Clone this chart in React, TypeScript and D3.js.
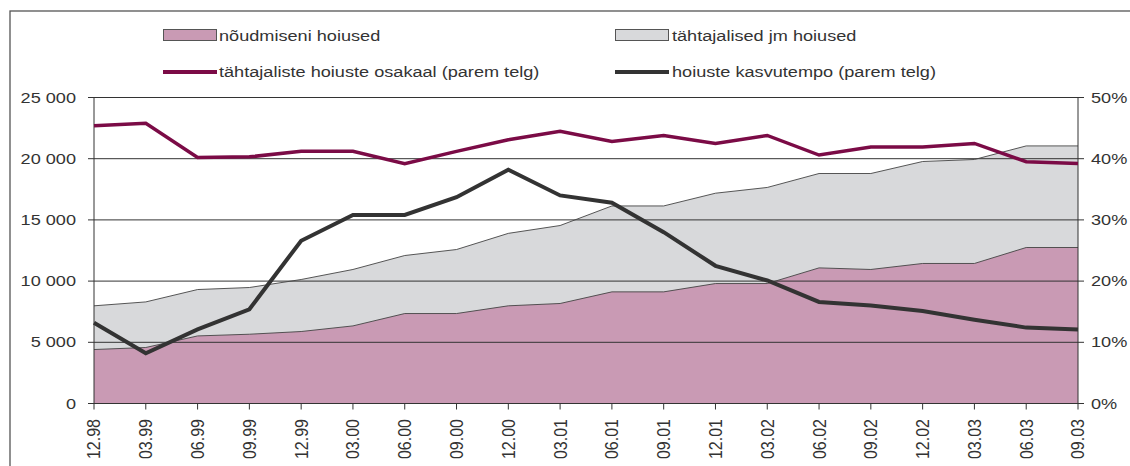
import React from "react";
import * as d3 from "d3";

const categories = ["12.98","03.99","06.99","09.99","12.99","03.00","06.00","09.00","12.00","03.01","06.01","09.01","12.01","03.02","06.02","09.02","12.02","03.03","06.03","09.03"];
const demandDeposits = [4410,4575,5520,5660,5880,6340,7350,7350,7980,8170,9120,9120,9800,9800,11080,10950,11440,11440,12745,12745];
const totalDeposits = [7980,8300,9310,9475,10130,10950,12090,12580,13900,14540,16140,16140,17180,17650,18790,18790,19770,19935,21045,21045];
const timeShare = [45.4,45.8,40.2,40.3,41.2,41.2,39.2,41.2,43.1,44.5,42.8,43.8,42.5,43.8,40.6,41.9,41.9,42.5,39.5,39.2];
const growthRate = [13.2,8.2,12.1,15.4,26.6,30.8,30.8,33.7,38.2,34.0,32.8,28.0,22.5,20.1,16.6,16.0,15.1,13.7,12.4,12.1];
const leftTicks = [0,5000,10000,15000,20000,25000];
const rightTicks = [0,10,20,30,40,50];
const legendLabels = ["nõudmiseni hoiused","tähtajalised jm hoiused","tähtajaliste hoiuste osakaal (parem telg)","hoiuste kasvutempo (parem telg)"];

const W = 1130, H = 466;
const L = 94, R = 1078, T = 97.5, B = 403.5;
const SX = 1.17;
const FONT = "'Liberation Sans', Arial, sans-serif";
const TXT = "#333";

const fmt = (v: number) => d3.format(",")(v).replace(/,/g, "\u00a0");

export default function App() {
  const x = d3.scalePoint<string>().domain(categories).range([L, R]);
  const yL = d3.scaleLinear().domain([0, 25000]).range([B, T]);
  const yR = d3.scaleLinear().domain([0, 50]).range([B, T]);
  const idx = categories.map((_, i) => i);

  const areaDemand = d3.area<number>().x(i => x(categories[i])!).y0(B).y1(i => yL(demandDeposits[i]))(idx)!;
  const areaTotal = d3.area<number>().x(i => x(categories[i])!).y0(B).y1(i => yL(totalDeposits[i]))(idx)!;
  const lineDemand = d3.line<number>().x(i => x(categories[i])!).y(i => yL(demandDeposits[i]))(idx)!;
  const lineTotal = d3.line<number>().x(i => x(categories[i])!).y(i => yL(totalDeposits[i]))(idx)!;
  const lineShare = d3.line<number>().x(i => x(categories[i])!).y(i => yR(timeShare[i]))(idx)!;
  const lineGrowth = d3.line<number>().x(i => x(categories[i])!).y(i => yR(growthRate[i]))(idx)!;

  const T_ = (props: { x: number; y: number; anchor?: string; rot?: boolean; size?: number; children: any; baseline?: string }) => (
    <g transform={`translate(${props.x},${props.y}) scale(${SX},1)${props.rot ? " rotate(-90)" : ""}`}>
      <text
        x={0}
        y={0}
        textAnchor={props.anchor || "start"}
        dominantBaseline={props.baseline || "auto"}
        fontFamily={FONT}
        fontSize={props.size || 15.5}
        fill={TXT}
      >
        {props.children}
      </text>
    </g>
  );

  return (
    <svg width={W} height={H} style={{ position: "absolute", left: 0, top: 0, background: "#fff" }}>
      <rect x={0} y={0} width={W} height={H} fill="#fff" />
      <rect x={10} y={11} width={W + 20} height={H + 20} fill="none" stroke="#555" strokeWidth={1.3} />

      {/* areas */}
      <path d={areaTotal} fill="#d8d9db" />
      <path d={areaDemand} fill="#c99ab4" />

      {/* gridlines */}
      {leftTicks.map(t => (
        <line key={t} x1={L} x2={R} y1={yL(t)} y2={yL(t)} stroke="#333" strokeWidth={1} />
      ))}

      <path d={lineTotal} fill="none" stroke="#444" strokeWidth={0.9} />
      <path d={lineDemand} fill="none" stroke="#444" strokeWidth={0.9} />

      {/* axes */}
      <line x1={L} x2={L} y1={T} y2={B} stroke="#333" strokeWidth={1} />
      <line x1={R} x2={R} y1={T} y2={B} stroke="#333" strokeWidth={1} />
      <line x1={L} x2={R} y1={B} y2={B} stroke="#333" strokeWidth={1.2} />
      {leftTicks.map(t => (
        <g key={"l" + t}>
          <line x1={L - 6} x2={L} y1={yL(t)} y2={yL(t)} stroke="#333" />
          <T_ x={76} y={yL(t)} anchor="end" baseline="central">{fmt(t)}</T_>
        </g>
      ))}
      {rightTicks.map(t => (
        <g key={"r" + t}>
          <line x1={R} x2={R + 6} y1={yR(t)} y2={yR(t)} stroke="#333" />
          <T_ x={1091} y={yR(t)} anchor="start" baseline="central">{t + "%"}</T_>
        </g>
      ))}
      {categories.map(c => (
        <g key={"c" + c}>
          <line x1={x(c)!} x2={x(c)!} y1={B} y2={B + 6} stroke="#333" />
          <T_ x={x(c)!} y={419} anchor="end" rot baseline="central" size={16}>{c}</T_>
        </g>
      ))}

      {/* lines */}
      <path d={lineGrowth} fill="none" stroke="#333333" strokeWidth={4} strokeLinejoin="miter" />
      <path d={lineShare} fill="none" stroke="#7b0b46" strokeWidth={3.5} strokeLinejoin="miter" />

      {/* legend */}
      <rect x={163.5} y={29.5} width={53} height={11} fill="#c99ab4" stroke="#555" strokeWidth={1} />
      <T_ x={219} y={41}>{legendLabels[0]}</T_>
      <rect x={615.5} y={29.5} width={53} height={11} fill="#d8d9db" stroke="#555" strokeWidth={1} />
      <T_ x={672} y={41}>{legendLabels[1]}</T_>
      <line x1={163} x2={217} y1={72} y2={72} stroke="#7b0b46" strokeWidth={4} />
      <T_ x={219} y={77}>{legendLabels[2]}</T_>
      <line x1={615} x2={669} y1={72} y2={72} stroke="#333" strokeWidth={4} />
      <T_ x={672} y={77}>{legendLabels[3]}</T_>
    </svg>
  );
}
